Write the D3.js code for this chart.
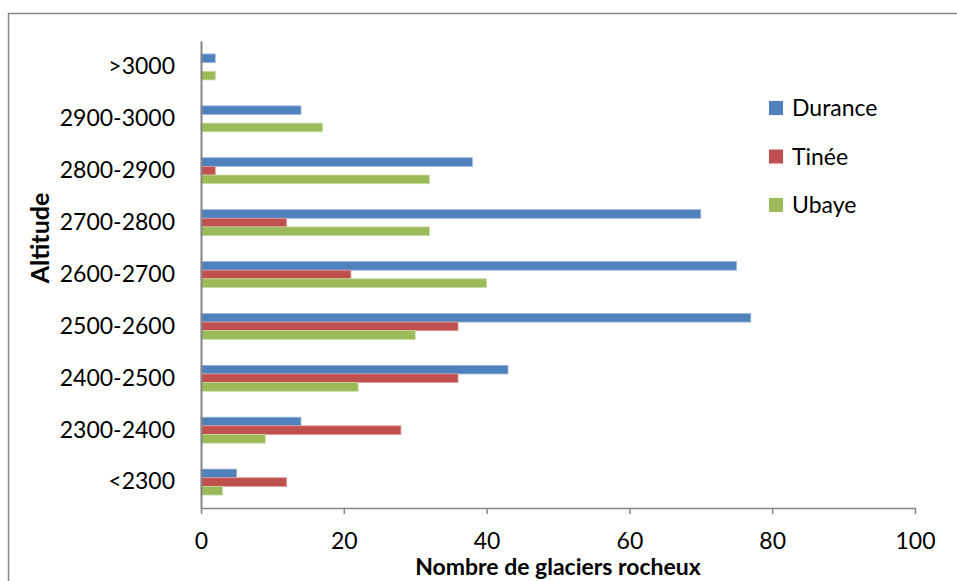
<!DOCTYPE html>
<html>
<head>
<meta charset="utf-8">
<script src="https://cdn.jsdelivr.net/npm/d3@7"></script>
<style>
  body { margin: 0; background: #fff; }
  text { font-family: Lato, "Open Sans", sans-serif; fill: #000; }
</style>
</head>
<body>
<div id="chart"></div>
<script>
// altitude bands, bottom to top as drawn
const categories = ['<2300', '2300-2400', '2400-2500', '2500-2600', '2600-2700', '2700-2800', '2800-2900', '2900-3000', '>3000'];
const seriesNames = ['Durance', 'Tinée', 'Ubaye'];
const durance = [5, 14, 43, 77, 75, 70, 38, 14, 2];
const tinee = [12, 28, 36, 36, 21, 12, 2, 0, 0];
const ubaye = [3, 9, 22, 30, 40, 32, 32, 17, 2];
const xTicks = [0, 20, 40, 60, 80, 100];

const colors = ['#4F81BD', '#C0504D', '#9BBB59'];
const strokes = ['#9DB8DC', '#DE9C9A', '#C6DAA3'];

const W = 957, H = 581;
const margin = {top: 41, right: 42, bottom: 73, left: 201};
const width = W - margin.left - margin.right;
const height = H - margin.top - margin.bottom;

const svg = d3.select('#chart').append('svg')
    .attr('width', W)
    .attr('height', H);

// chart frame
svg.append('rect')
    .attr('x', 8.5).attr('y', 13.5)
    .attr('width', W + 10).attr('height', H + 10)
    .attr('fill', 'none')
    .attr('stroke', '#868686')
    .attr('stroke-width', 1.5);

const g = svg.append('g')
    .attr('transform', `translate(${margin.left},${margin.top})`);

const x = d3.scaleLinear().domain([0, 100]).range([0, width]);
const y = d3.scaleBand().domain(categories.slice().reverse()).range([0, height]).paddingInner(0.5).paddingOuter(0.25);
const ySub = d3.scaleBand().domain(seriesNames).range([0, y.bandwidth()]);

const rows = categories.map((c, i) => ({cat: c, vals: [durance[i], tinee[i], ubaye[i]]}));

const groups = g.selectAll('.grp').data(rows).enter().append('g')
    .attr('class', 'grp')
    .attr('transform', d => `translate(0,${y(d.cat)})`);

groups.selectAll('rect')
    .data(d => d.vals.map((v, k) => ({name: seriesNames[k], v: v, k: k})))
    .enter().append('rect')
    .filter(d => d.v > 0)
    .attr('x', 0)
    .attr('y', d => ySub(d.name))
    .attr('width', d => x(d.v))
    .attr('height', ySub.bandwidth())
    .attr('fill', d => colors[d.k])
    .attr('stroke', d => strokes[d.k])
    .attr('stroke-width', 0.8);

// x axis
const xAxis = g.append('g')
    .attr('transform', `translate(0,${height})`)
    .call(d3.axisBottom(x).tickValues(xTicks).tickSize(6).tickPadding(19).tickSizeOuter(0));
xAxis.select('.domain').attr('stroke', '#868686').attr('stroke-width', 1.5);
xAxis.selectAll('.tick line').attr('stroke', '#868686').attr('stroke-width', 1.5);
xAxis.selectAll('text').style('font-size', '23px').attr('fill', '#000');

// y axis (line only, no ticks)
const yAxis = g.append('g')
    .call(d3.axisLeft(y).tickSize(0).tickPadding(26));
yAxis.select('.domain').attr('stroke', '#868686').attr('stroke-width', 2);
yAxis.selectAll('text').style('font-size', '23px').attr('fill', '#000');

// axis titles
svg.append('text')
    .attr('x', margin.left + width / 2)
    .attr('y', 575)
    .attr('text-anchor', 'middle')
    .style('font-size', '23px')
    .style('font-weight', 'bold')
    .text('Nombre de glaciers rocheux');

svg.append('text')
    .attr('transform', 'translate(49,238) rotate(-90)')
    .attr('text-anchor', 'middle')
    .style('font-size', '25px')
    .style('font-weight', 'bold')
    .text('Altitude');

// legend
const legend = svg.append('g').attr('transform', 'translate(769,101)');
const items = legend.selectAll('g').data(seriesNames).enter().append('g')
    .attr('transform', (d, i) => `translate(0,${i * 48.5})`);
items.append('rect')
    .attr('width', 14).attr('height', 14)
    .attr('fill', (d, i) => colors[i]);
items.append('text')
    .attr('x', 23).attr('y', 15)
    .style('font-size', '23px')
    .text(d => d);
</script>
</body>
</html>
